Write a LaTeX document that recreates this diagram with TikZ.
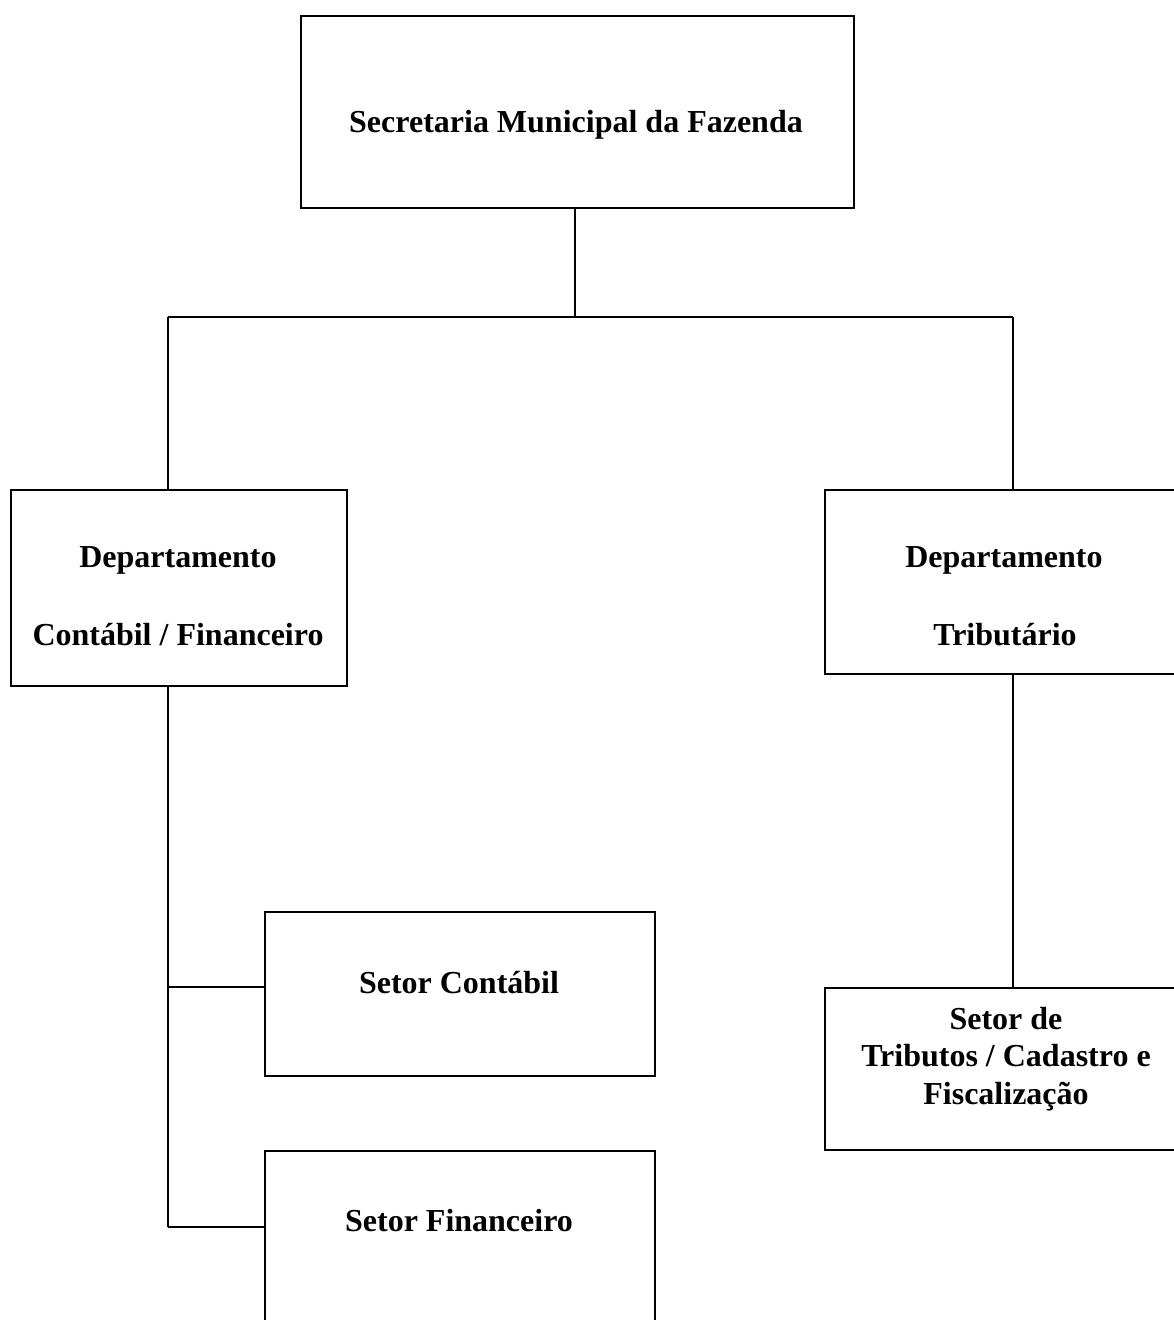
\documentclass[tikz,border=0pt]{standalone}
\usepackage{fontspec}
\setmainfont{Liberation Serif}
\usepackage{tikz}

\begin{document}
\begin{tikzpicture}[x=1pt,y=-1pt,line width=1.5pt,
  caixa/.style={draw,anchor=north west,inner sep=0pt},
  rotulo/.style={font=\fontsize{32}{37.5}\selectfont\bfseries,align=center,inner sep=0pt}]
\useasboundingbox (0,0) rectangle (1174,1320);
\clip (0,0) rectangle (1174,1320);
% caixas
\node[caixa,minimum width=553,minimum height=192] (sec) at (300,15) {};
\node[caixa,minimum width=336,minimum height=196] (dcf) at (10,489) {};
\node[caixa,minimum width=370,minimum height=184] (dtr) at (824,489) {};
\node[caixa,minimum width=390,minimum height=164] (sco) at (264,911) {};
\node[caixa,minimum width=390,minimum height=190] (sfi) at (264,1150) {};
\node[caixa,minimum width=370,minimum height=162] (str) at (824,987) {};
% textos
\node[rotulo] (tsec) at (576,125) {Secretaria Municipal da Fazenda};
\node[rotulo] (tdcf1) at (178,560) {Departamento};
\node[rotulo] (tdcf2) at (178,635) {Contábil / Financeiro};
\node[rotulo] (tdtr1) at (1004,560) {Departamento};
\node[rotulo] (tdtr2) at (1005,635) {Tributário};
\node[rotulo] (tsco) at (459,983) {Setor Contábil};
\node[rotulo] (tsfi) at (459,1221) {Setor Financeiro};
\node[rotulo] (tstr) at (1006,1059) {Setor de\\Tributos / Cadastro e\\Fiscalização};
% ligacoes
\coordinate (jcs) at (575,317);
\coordinate (jes) at (168,317);
\coordinate (jdi) at (1013,317);
\coordinate (ksc) at (168,987);
\coordinate (ksf) at (168,1227);
\draw (jcs |- sec.south) -- (jcs);
\draw (jes) -- (jdi);
\draw (jes) -- (jes |- dcf.north);
\draw (jdi) -- (jdi |- dtr.north);
\draw (jes |- dcf.south) -- (ksf);
\draw (ksc) -- (ksc -| sco.west);
\draw (ksf) -- (ksf -| sfi.west);
\draw (jdi |- dtr.south) -- (jdi |- str.north);
\end{tikzpicture}
\end{document}
